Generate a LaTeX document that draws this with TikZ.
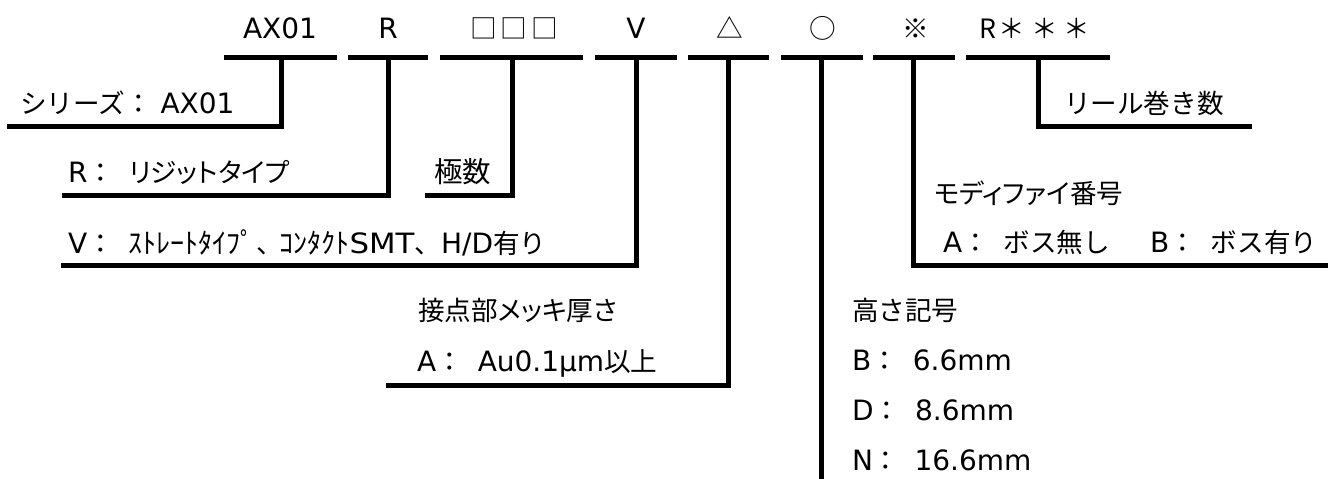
\documentclass[tikz,border=0pt]{standalone}
\usepackage{fontspec}
\setmainfont{DejaVu Sans}
\newfontfamily\jp{Noto Sans CJK JP}[Scale=0.95]
\newfontfamily\jk{Noto Sans CJK JP}[Scale=0.95,RawFeature=+palt]
\newcommand\sepgap{\hspace{15pt}}
\newcommand\hw{\jp\fontsize{29.5pt}{34pt}\selectfont}
\begin{document}
\begin{tikzpicture}[x=1pt,y=-1pt,
  lbl/.style={inner sep=0pt,outer sep=0pt,anchor=base west,font=\fontsize{28pt}{34pt}\selectfont},
  code/.style={inner sep=0pt,outer sep=0pt,anchor=base,font=\fontsize{28pt}{34pt}\selectfont},
  bar/.style={line width=5pt,line cap=butt},
  lead/.style={line width=5pt,line join=miter,line cap=butt}]
\useasboundingbox (0,0) rectangle (1330,479);

% code letters
\node[code] (tAX) at (280,38) {AX01};
\node[code] (tR)  at (388,38) {R};
\node[code] (tN)  at (514,38) {{\jp □\hspace{4pt}□\hspace{4pt}□}};
\node[code] (tV)  at (636,38) {V};
\node[code] (tT)  at (730,38) {{\jp △}};
\node[code] (tO)  at (823,38) {{\jp ○}};
\node[code] (tK)  at (916,38) {{\jp ※}};
\node[code] (tRR) at (1035,38) {{\jp R\hspace{2pt}＊\hspace{6pt}＊\hspace{6pt}＊}};

% bars
\coordinate (b1l) at (224,57); \coordinate (b1r) at (337,57); \coordinate (b1d) at (281,57);
\coordinate (b2l) at (348,57); \coordinate (b2r) at (428,57); \coordinate (b2d) at (388,57);
\coordinate (b3l) at (440,57); \coordinate (b3r) at (583,57); \coordinate (b3d) at (512,57);
\coordinate (b4l) at (595,57); \coordinate (b4r) at (677,57); \coordinate (b4d) at (636,57);
\coordinate (b5l) at (688,57); \coordinate (b5r) at (769,57); \coordinate (b5d) at (728,57);
\coordinate (b6l) at (781,57); \coordinate (b6r) at (863,57); \coordinate (b6d) at (821,57);
\coordinate (b7l) at (873,57); \coordinate (b7r) at (955,57); \coordinate (b7d) at (913,57);
\coordinate (b8l) at (966,57); \coordinate (b8r) at (1110,57); \coordinate (b8d) at (1038,57);
\foreach \i in {1,...,8} {\draw[bar] (b\i l) -- (b\i r);}

% lead ends
\coordinate (e1) at (7,126);
\coordinate (e2) at (62,195);
\coordinate (e3) at (425,195);
\coordinate (e4) at (61,265);
\coordinate (e5) at (386,385);
\coordinate (e6) at (821,479);
\coordinate (e7) at (1328,265);
\coordinate (e8) at (1252,126);

\draw[lead] (b1d) |- (e1);
\draw[lead] (b2d) |- (e2);
\draw[lead] (b3d) |- (e3);
\draw[lead] (b4d) |- (e4);
\draw[lead] (b5d) |- (e5);
\draw[lead] (b6d) -- (e6);
\draw[lead] (b7d) |- (e7);
\draw[lead] (b8d) |- (e8);

% labels
\node[lbl] (l1)  at (20,113)  {{\jp シリーズ：} AX01};
\node[lbl] (l2)  at (68,182)  {R{\jp ：}\sepgap{\jk リジットタイプ}};
\node[lbl] (l3)  at (434,182) {{\jp\fontsize{30pt}{34pt}\selectfont 極数}};
\node[lbl] (l4)  at (68,253)  {V{\jp ：}\sepgap{\hw ｽﾄﾚｰﾄﾀｲﾌﾟ}\hspace{2pt}{\jp 、}\hspace{-4pt}{\hw ｺﾝﾀｸﾄ}\scalebox{1.1}[1]{SMT}{\jp 、}H/D{\jp 有り}};
\node[lbl] (l5)  at (1064,113) {{\jp リール巻き数}};
\node[lbl] (l6)  at (934,203) {{\jk モディファイ番号}};
\node[lbl] (l7)  at (943,252) {A{\jp ：}\sepgap{\jp ボス無し}\hspace{40pt}B{\jp ：}\sepgap{\jp ボス有り}};
\node[lbl] (l8)  at (418,320) {{\jk 接点部メッキ厚さ}};
\node[lbl] (l9)  at (417,371) {A{\jp ：}\sepgap Au0.1µm{\jp 以上}};
\node[lbl] (l10) at (852,320) {{\jp 高さ記号}};
\node[lbl] (l11) at (852,370) {B{\jp ：}\sepgap 6.6mm};
\node[lbl] (l12) at (852,420) {D{\jp ：}\sepgap 8.6mm};
\node[lbl] (l13) at (852,470) {N{\jp ：}\sepgap 16.6mm};
\end{tikzpicture}
\end{document}
